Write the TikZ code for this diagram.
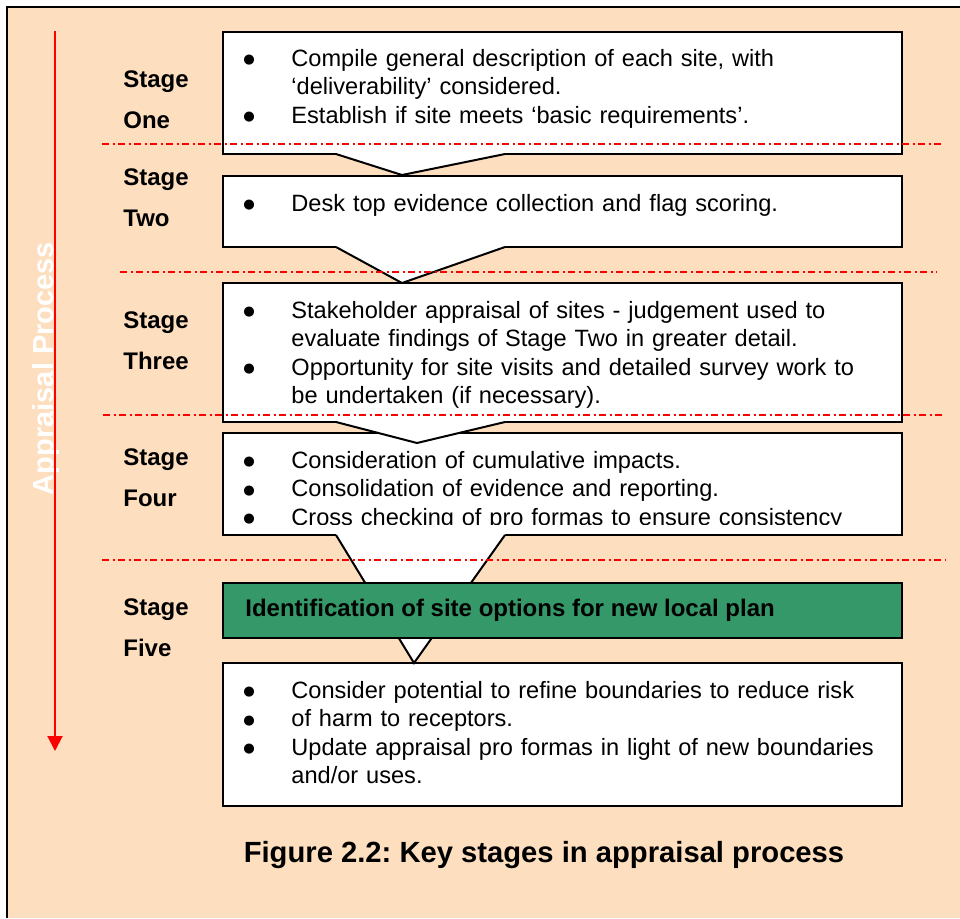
\documentclass[tikz,border=0pt]{standalone}
\usepackage{fontspec}
\setmainfont{Liberation Sans}
\newfontfamily\dotfont{DejaVu Sans}
\usetikzlibrary{arrows.meta}
\definecolor{peach}{RGB}{253,223,192}
\definecolor{optgreen}{RGB}{52,152,104}
\newcommand{\bul}{\makebox[24pt][l]{\raisebox{1.3pt}{\dotfont\fontsize{6.6}{7}\selectfont ●}}}
\newcommand{\ind}{\hspace*{24pt}}
\frenchspacing

\tikzset{
	stagebox/.style={draw=black, line width=1pt, fill=white, minimum width=339.5pt, inner sep=0pt, outer sep=0pt},
	boxtext/.style={anchor=base west, inner sep=0pt, text width=330pt, align=left, font=\fontsize{11.8}{14.2}\selectfont},
	stagelbl/.style={anchor=base west, inner sep=0pt, text width=60pt, align=left, font=\bfseries\fontsize{12}{20.5}\selectfont},
	divider/.style={red, line width=0.75pt, dash pattern=on 3.5pt off 1.75pt on 1pt off 1.75pt},
	piece/.style={line width=1pt, line join=miter}
}

\begin{document}
\begin{tikzpicture}[x=0.5pt, y=-0.5pt]
		\useasboundingbox (0,0) rectangle (960,918);

		%% Background frame
		\fill[peach] (6,7) rectangle (960,918);
		\draw[line width=1pt] (6.5,918) -- (6.5,7) -- (960,7);

		%% Appraisal process arrow
		\node[rotate=90, anchor=base, inner sep=0pt, text=white, font=\bfseries\fontsize{14.5}{17}\selectfont] (proc) at (54,368.5){Appraisal Process};
		\coordinate (arrtop) at (55,31);
		\coordinate (arrbot) at (55,751);
		\draw[red, line width=1pt, -{Triangle[width=7.5pt,length=7.5pt]}] (arrtop) -- (arrbot);

		%% Stage boxes
		\node[stagebox, minimum height=61pt] (one) at (562.5,93){};
		\node[stagebox, minimum height=35.5pt] (two) at (562.5,211.5){};
		\node[stagebox, minimum height=69.5pt] (three) at (562.5,352.5){};
		\node[stagebox, minimum height=51pt] (four) at (562.5,484){};
		\node[stagebox, minimum height=71.5pt] (five) at (562.5,734.5){};

		%% Arrows between the boxes
		\fill[white] (336,148) -- (505,148) -- (505,154) -- (402,175) -- (336,154) -- cycle;
		\draw[piece] (336,154) -- (402,175) -- (505,154);

		\fill[white] (336,241) -- (505,241) -- (505,247) -- (402,283) -- (336,247) -- cycle;
		\draw[piece] (336,247) -- (402,283) -- (505,247);

		\fill[white] (336,416) -- (505,416) -- (505,422) -- (417,443) -- (336,422) -- cycle;
		\draw[piece] (336,422) -- (417,443) -- (505,422);

		\fill[white] (336,529) -- (505,529) -- (505,535) -- (414,663) -- (336,535) -- cycle;
		\draw[piece] (336,535) -- (414,663) -- (505,535);

		%% Outcome box
		\node[stagebox, fill=optgreen, minimum height=27.5pt] (opts) at (562.5,610.5){};

		%% Stage dividers
		\coordinate (d1a) at (102,144);
		\coordinate (d1b) at (943,144);
		\coordinate (d2a) at (120,272);
		\coordinate (d2b) at (937,272);
		\coordinate (d3a) at (103,415);
		\coordinate (d3b) at (943,415);
		\coordinate (d4a) at (102,560);
		\coordinate (d4b) at (945,560);
		\draw[divider] (d1a) -- (d1b);
		\draw[divider] (d2a) -- (d2b);
		\draw[divider] (d3a) -- (d3b);
		\draw[divider] (d4a) -- (d4b);

		%% Stage labels
		\node[stagelbl] (l1) at (123,87.5){Stage\\One};
		\node[stagelbl] (l2) at (123,185.5){Stage\\Two};
		\node[stagelbl] (l3) at (123,328.5){Stage\\Three};
		\node[stagelbl] (l4) at (123,465.5){Stage\\Four};
		\node[stagelbl] (l5) at (123,615.5){Stage\\Five};

		%% Box texts
		\node[boxtext] (t1) at (243,66.5){\bul Compile general description of each site, with\\
			\ind `deliverability' considered.\\
			\bul Establish if site meets `basic requirements'.};
		\node[boxtext] (t2) at (243,211.5){\bul Desk top evidence collection and flag scoring.};
		\node[boxtext] (t3) at (243,318.5){\bul Stakeholder appraisal of sites - judgement used to\\
			\ind evaluate findings of Stage Two in greater detail.\\
			\bul Opportunity for site visits and detailed survey work to\\
			\ind be undertaken (if necessary).};
		\begin{scope}
			\clip (223,433) rectangle (902,524);
			\node[boxtext] (t4) at (243,468.5){\bul Consideration of cumulative impacts.\\
				\bul Consolidation of evidence and reporting.\\
				\bul Cross checking of pro formas to ensure consistency};
		\end{scope}
		\node[anchor=base west, inner sep=0pt, font=\bfseries\fontsize{12}{14}\selectfont] (topt) at (245,616.5){Identification of site options for new local plan};
		\node[boxtext] (t5) at (243,698.5){\bul Consider potential to refine boundaries to reduce risk\\
			\bul of harm to receptors.\\
			\bul Update appraisal pro formas in light of new boundaries\\
			\ind and/or uses.};

		%% Caption
		\node[anchor=base, inner sep=0pt, font=\bfseries\fontsize{14.6}{17}\selectfont] (caption) at (544,862){Figure 2.2: Key stages in appraisal process};
\end{tikzpicture}
\end{document}
